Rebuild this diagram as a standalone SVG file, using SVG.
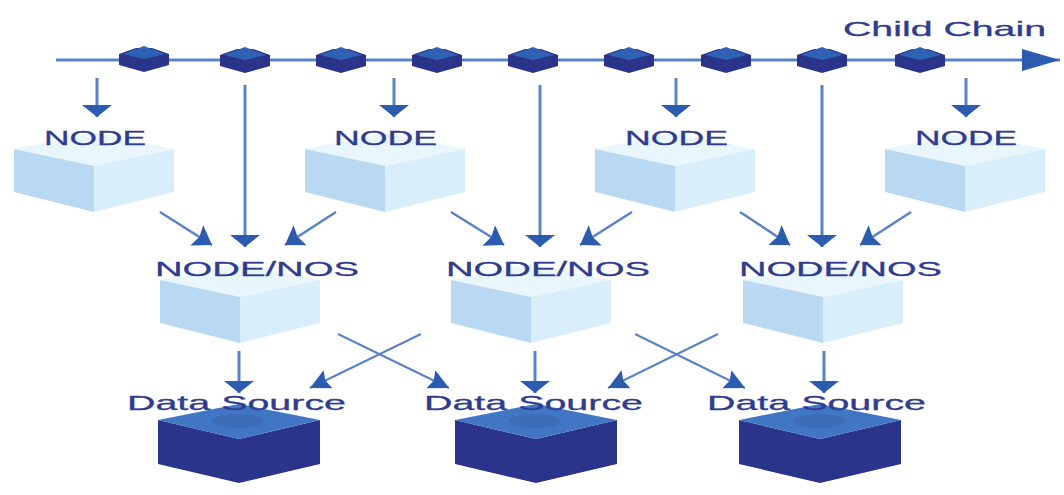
<svg xmlns="http://www.w3.org/2000/svg" width="1064" height="495" viewBox="0 0 1064 495">
<style>
.lbl{font-family:"Liberation Sans",Arial,sans-serif;font-size:21px;fill:#2f3c8e;stroke:#2f3c8e;stroke-width:.3}
.ln{fill:none;stroke:#5a82c6;stroke-width:3}
.mid{stroke-width:2.5}
.thin{stroke-width:2}
.lt{fill:#e9f6fd}.ll{fill:#b9d9f3}.lr{fill:#d8eefa}
.dk{fill:#29348a}.dt{fill:#4076c4}.de{fill:#3e6db8}.ct{fill:#2f62b4}
</style>
<defs>
<marker id="h" markerUnits="userSpaceOnUse" markerWidth="18" markerHeight="24" viewBox="0 0 18 24" refX="18" refY="12" orient="auto"><path d="M0,0L18,12L0,24L3,12Z" fill="#2b5cb0"/></marker>
<marker id="hc" markerUnits="userSpaceOnUse" markerWidth="20" markerHeight="20" viewBox="0 0 20 20" refX="20" refY="10" orient="auto"><path d="M0,0L20,10L0,20L3,10Z" fill="#2b5cb0"/></marker>
<marker id="hd" markerUnits="userSpaceOnUse" markerWidth="12" markerHeight="30" viewBox="0 0 12 30" refX="12" refY="15" orient="auto"><path d="M0,0L12,15L0,30Z" fill="#2b5cb0"/></marker>
<marker id="hb" markerUnits="userSpaceOnUse" markerWidth="38" markerHeight="22" viewBox="0 0 38 22" refX="38" refY="11" orient="auto"><path d="M0,0L38,11L0,22Z" fill="#2b5cb0"/></marker>
<g id="chex"><path class="dk" d="M-25,-5L-8,-11H8L25,-5V6L0,13L-25,6Z"/><path class="ct" d="M-21,-5L0,-13L21,-5L0,0Z"/></g>
<g id="light"><path class="lt" d="M-80,-17L0,-33L80,-17L0,0Z"/><path class="ll" d="M-80,-17L0,0V46L-80,26Z"/><path class="lr" d="M80,-17L0,0V46L80,26Z"/></g>
<g id="dark"><path class="dk" d="M-81,-19L0,0V44L-81,25ZM81,-19L0,0V44L81,25Z"/><path class="dt" d="M-81,-19L0,-35L81,-19L0,0Z"/><ellipse class="de" cx="-1" cy="-18" rx="26" ry="7"/></g>
</defs>
<g id="connectors">
<path class="ln" d="M56,60H1060" marker-end="url(#hb)"/>
<path class="ln" d="M97,78V117" marker-end="url(#hd)"/>
<path class="ln" d="M394,78V117" marker-end="url(#hd)"/>
<path class="ln" d="M676,78V117" marker-end="url(#hd)"/>
<path class="ln" d="M966,78V117" marker-end="url(#hd)"/>
<path class="ln" d="M245,85V247" marker-end="url(#hd)"/>
<path class="ln" d="M540,85V247" marker-end="url(#hd)"/>
<path class="ln" d="M822,85V247" marker-end="url(#hd)"/>
<path class="ln mid" d="M160,212L212,245" marker-end="url(#h)"/>
<path class="ln mid" d="M336,212L285,245" marker-end="url(#h)"/>
<path class="ln mid" d="M451,212L504,245" marker-end="url(#h)"/>
<path class="ln mid" d="M632,212L580,245" marker-end="url(#h)"/>
<path class="ln mid" d="M740,212L790,245" marker-end="url(#h)"/>
<path class="ln mid" d="M911,212L860,245" marker-end="url(#h)"/>
<path class="ln" d="M239,351V393" marker-end="url(#hd)"/>
<path class="ln" d="M535,351V393" marker-end="url(#hd)"/>
<path class="ln" d="M824,351V393" marker-end="url(#hd)"/>
<path class="ln thin" d="M338,334L449,388" marker-end="url(#hc)"/>
<path class="ln thin" d="M421,334L310,388" marker-end="url(#hc)"/>
<path class="ln thin" d="M635,334L745,388" marker-end="url(#hc)"/>
<path class="ln thin" d="M718,334L608,388" marker-end="url(#hc)"/>
</g>
<g id="chain">
<use href="#chex" x="144" y="59"/><use href="#chex" x="245" y="60"/><use href="#chex" x="341" y="60"/>
<use href="#chex" x="437" y="60"/><use href="#chex" x="533" y="60"/><use href="#chex" x="629" y="60"/>
<use href="#chex" x="726" y="60"/><use href="#chex" x="822" y="60"/><use href="#chex" x="920" y="60"/>
</g>
<g id="child-chain"><text class="lbl" x="843" y="36" textLength="203" lengthAdjust="spacingAndGlyphs">Child Chain</text></g>
<g id="node-1"><use href="#light" x="94" y="166"/><text class="lbl" x="44" y="145" textLength="102" lengthAdjust="spacingAndGlyphs">NODE</text></g>
<g id="node-2"><use href="#light" x="385" y="166"/><text class="lbl" x="334" y="145" textLength="103" lengthAdjust="spacingAndGlyphs">NODE</text></g>
<g id="node-3"><use href="#light" x="675" y="166"/><text class="lbl" x="625" y="145" textLength="103" lengthAdjust="spacingAndGlyphs">NODE</text></g>
<g id="node-4"><use href="#light" x="965" y="166"/><text class="lbl" x="915" y="145" textLength="102" lengthAdjust="spacingAndGlyphs">NODE</text></g>
<g id="nos-1"><use href="#light" x="240" y="297"/><text class="lbl" x="155" y="276" textLength="204" lengthAdjust="spacingAndGlyphs">NODE/NOS</text></g>
<g id="nos-2"><use href="#light" x="531" y="297"/><text class="lbl" x="446" y="276" textLength="204" lengthAdjust="spacingAndGlyphs">NODE/NOS</text></g>
<g id="nos-3"><use href="#light" x="823" y="297"/><text class="lbl" x="739" y="276" textLength="203" lengthAdjust="spacingAndGlyphs">NODE/NOS</text></g>
<g id="source-1"><use href="#dark" x="239" y="439"/><text class="lbl" x="127" y="410" textLength="219" lengthAdjust="spacingAndGlyphs">Data Source</text></g>
<g id="source-2"><use href="#dark" x="536" y="439"/><text class="lbl" x="424" y="410" textLength="219" lengthAdjust="spacingAndGlyphs">Data Source</text></g>
<g id="source-3"><use href="#dark" x="820" y="439"/><text class="lbl" x="707" y="410" textLength="219" lengthAdjust="spacingAndGlyphs">Data Source</text></g>
</svg>
